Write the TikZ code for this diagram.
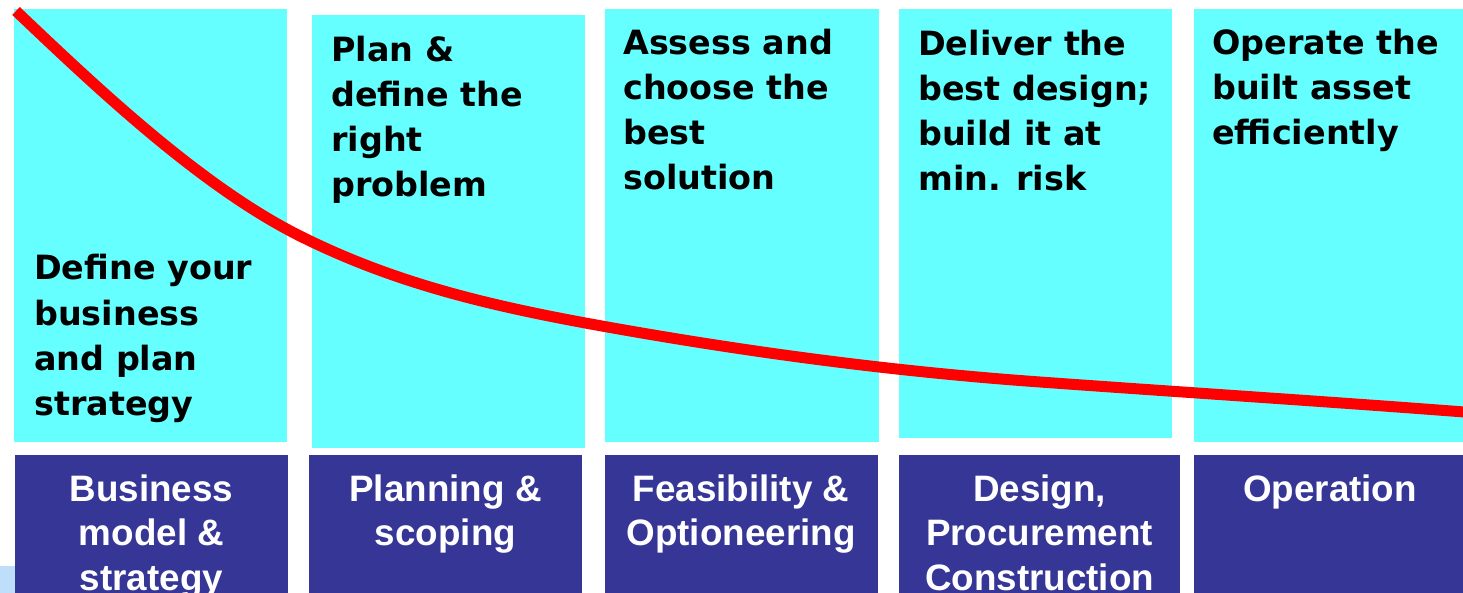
\documentclass[tikz,border=0pt]{standalone}
\usepackage{fontspec}
\newfontfamily\topfont{DejaVu Sans}
\newfontfamily\botfont{Liberation Sans}
\definecolor{cyanbox}{RGB}{102,255,255}
\definecolor{navybox}{RGB}{54,54,150}
\definecolor{paleblue}{RGB}{190,222,250}
\tikzset{
  topbox/.style={fill=cyanbox},
  botbox/.style={fill=navybox},
  toptext/.style={inner sep=0pt, anchor=base west, text=black,
    font=\topfont\bfseries\fontsize{33.4}{45}\selectfont},
  bottext/.style={inner sep=0pt, anchor=base, text=white,
    font=\botfont\bfseries\fontsize{36.8}{44.5}\selectfont},
  costcurve/.style={draw=red, line width=11pt, line cap=butt}
}
\begin{document}
\begin{tikzpicture}[x=1pt,y=-1pt]
\clip (0,0) rectangle (1463,593);
\fill[white] (0,0) rectangle (1463,593);
% top cyan boxes
\fill[topbox] (14,9) rectangle (287,442);
\fill[topbox] (312,15) rectangle (585,448);
\fill[topbox] (605,9) rectangle (879,442);
\fill[topbox] (899,9) rectangle (1172,438);
\fill[topbox] (1194,9) rectangle (1463,442);
% bottom navy boxes
\fill[paleblue] (0,566) rectangle (15,593);
\fill[botbox] (15,455) rectangle (288,593);
\fill[botbox] (309,455) rectangle (582,593);
\fill[botbox] (605,455) rectangle (878,593);
\fill[botbox] (899,455) rectangle (1180,593);
\fill[botbox] (1194,455) rectangle (1463,593);
% top texts
\node[toptext] (t1) at (34,280) {\begin{tabular}[t]{@{}l@{}}Define your\\business\\and plan\\strategy\end{tabular}};
\node[toptext] (t2) at (331,62) {\begin{tabular}[t]{@{}l@{}}Plan \&\\define the\\right\\problem\end{tabular}};
\node[toptext] (t3) at (623,55) {\begin{tabular}[t]{@{}l@{}}Assess and\\choose the\\best\\solution\end{tabular}};
\node[toptext] (t4) at (918,56) {\begin{tabular}[t]{@{}l@{}}Deliver the\\best design;\\build it at\\min. risk\end{tabular}};
\node[toptext] (t5) at (1212,55) {\begin{tabular}[t]{@{}l@{}}Operate the\\built asset\\efficiently\end{tabular}};
% bottom texts
\node[bottext] (b1) at (151.5,501) {\begin{tabular}[t]{@{}c@{}}Business\\model \&\\strategy\end{tabular}};
\node[bottext] (b2) at (445.5,501) {\begin{tabular}[t]{@{}c@{}}Planning \&\\scoping\end{tabular}};
\node[bottext] (b3) at (741,501) {\begin{tabular}[t]{@{}c@{}}Feasibility \&\\Optioneering\end{tabular}};
\node[bottext] (b4) at (1039.5,501) {\begin{tabular}[t]{@{}c@{}}Design,\\Procurement\\Construction\end{tabular}};
\node[bottext] (b5) at (1330,501) {\begin{tabular}[t]{@{}c@{}}Operation\end{tabular}};
% red curve
\draw[costcurve] (16,11) .. controls (95,86) and (200,186) .. (300,236)
  .. controls (400,286) and (500,308) .. (613,328)
  .. controls (760,354) and (900,372) .. (1040,382)
  .. controls (1200,393.5) and (1350,403) .. (1490,414);
\end{tikzpicture}
\end{document}
